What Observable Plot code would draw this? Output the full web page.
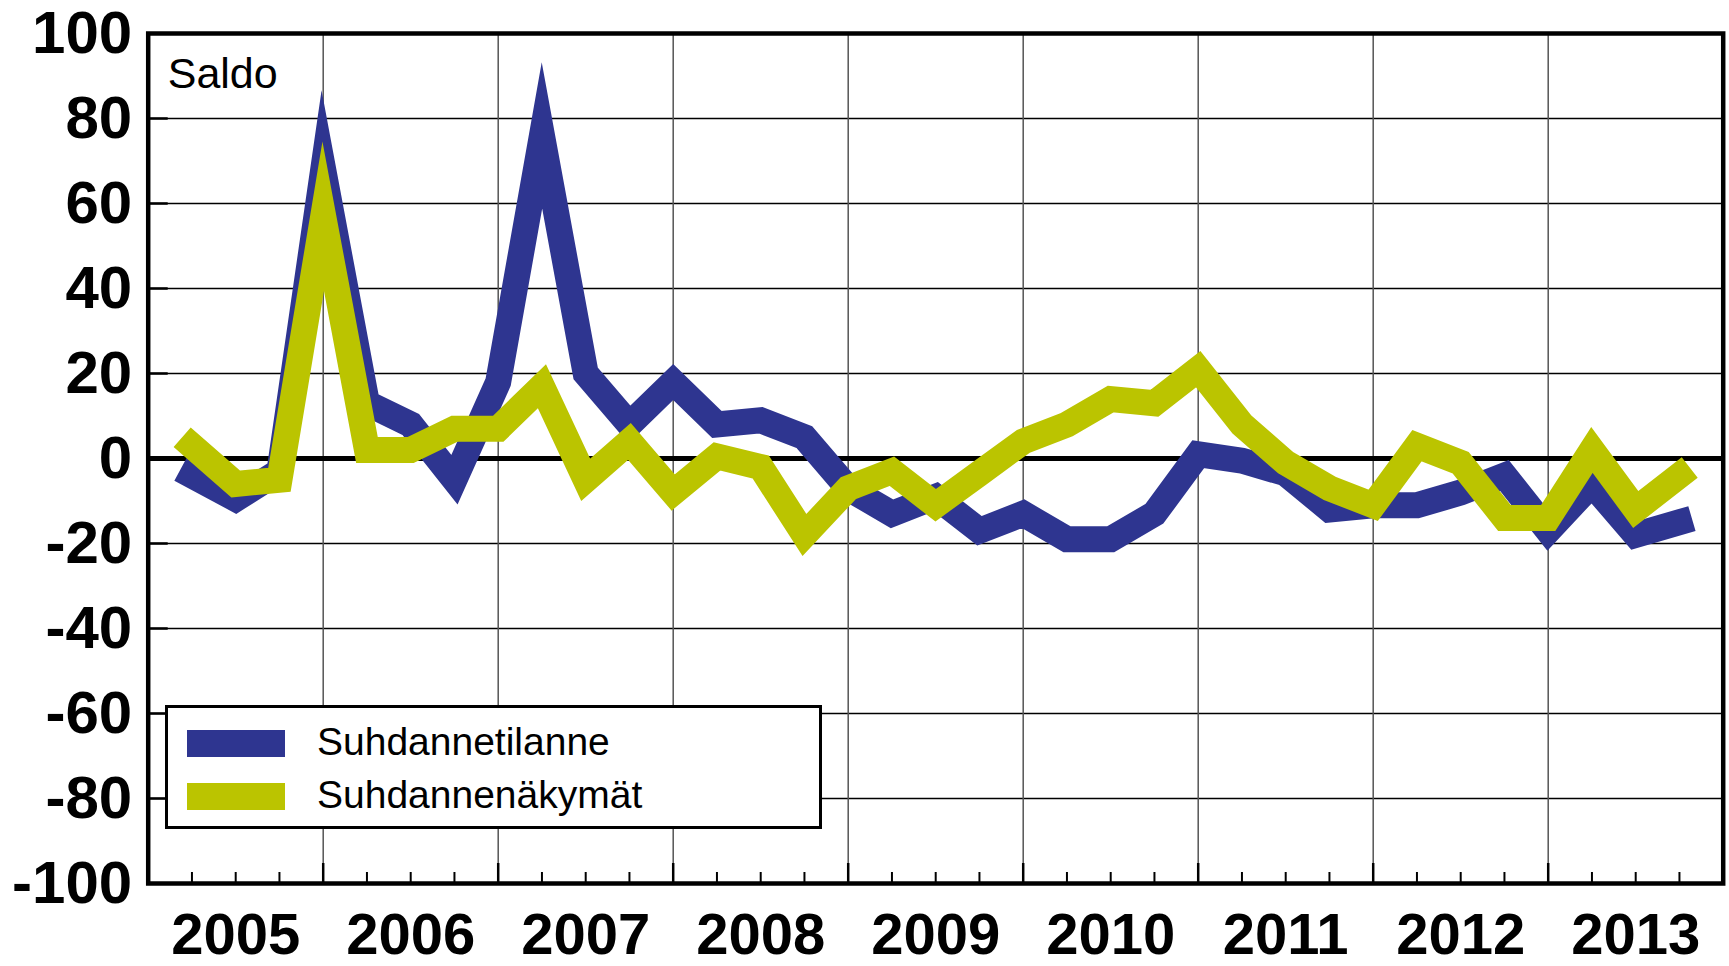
<!DOCTYPE html>
<html><head><meta charset="utf-8">
<script src="https://cdn.jsdelivr.net/npm/d3@7"></script>
<script src="https://cdn.jsdelivr.net/npm/@observablehq/plot@0.6"></script>
<style>
html,body{margin:0;padding:0;background:#fff;overflow:hidden}
#wrap{position:relative;width:1729px;height:966px}
#legend{position:absolute;left:165px;top:705px;width:657px;height:124px;box-sizing:border-box;border:3px solid #000;background:#fff;font-family:"Liberation Sans",Arial,sans-serif;color:#000}
#legend .sw{position:absolute;left:19px;width:98px;height:27px}
#legend .lbl{position:absolute;left:149px;font-size:39px;line-height:39px;white-space:nowrap}
</style></head><body><div id="wrap"><div id="chart"></div><div id="legend"></div></div>
<script>
// ---- data ----
const years = [2005, 2006, 2007, 2008, 2009, 2010, 2011, 2012, 2013];
const seriesNames = ["Suhdannetilanne", "Suhdannenäkymät"];
const seriesColors = ["#2e3590", "#bbc400"];
const suhdannetilanne = [-4, -9.5, -3, 68, 13, 8, -5, 18, 76, 20, 8, 18, 8, 9, 5, -7, -13, -9, -17, -13, -19, -19, -13, 1, -0.5, -3.5, -12, -11, -11, -8, -4, -17, -6, -18, -15];
const suhdannenakymat = [3, -6, -5, 57, 2, 2, 7, 7, 17, -5, 4, -8, 0.5, -2, -18, -7, -3, -11, -3.5, 4, 8, 14, 13, 21, 8, -1, -7, -11, 3, -1, -14, -14, 2, -12, -4];
const yTicks = [-100, -80, -60, -40, -20, 0, 20, 40, 60, 80, 100];
const yLabel = "Saldo";

// ---- table ----
const seriesValues = [suhdannetilanne, suhdannenakymat];
const data = [];
seriesNames.forEach((name, s) => {
  seriesValues[s].forEach((v, i) => data.push({series: name, x: years[0] + (i + 1) / 4, y: v}));
});
const yearBounds = years.slice(1);
const yearCenters = years.map(y => y + 0.5);
const quarterTicks = d3.range(1, years.length * 4).filter(k => k % 4 !== 0).map(k => years[0] + k / 4);

const chart = Plot.plot({
  width: 1729, height: 966,
  marginLeft: 147.7, marginTop: 33, marginRight: 6.3, marginBottom: 83,
  style: {fontFamily: '"Liberation Sans", Arial, sans-serif', background: "#fff", color: "#000"},
  x: {domain: [years[0], years[years.length - 1] + 1]},
  y: {domain: [yTicks[0], yTicks[yTicks.length - 1]]},
  color: {domain: seriesNames, range: seriesColors},
  marks: [
    Plot.gridY(yTicks, {stroke: "#000", strokeOpacity: 1, strokeWidth: 1.4}),
    Plot.gridX(yearBounds, {stroke: "#555", strokeOpacity: 1, strokeWidth: 1.5}),
    Plot.ruleY([0], {stroke: "#000", strokeWidth: 5}),
    Plot.line(data, {x: "x", y: "y", z: "series", stroke: "series", strokeWidth: 26,
      strokeLinecap: "square", strokeLinejoin: "miter", strokeMiterlimit: 20}),
    Plot.frame({stroke: "#000", strokeWidth: 4.5}),
    Plot.axisY(yTicks, {tickSize: -20, tickFormat: () => "", strokeWidth: 2.5, label: null}),
    Plot.axisY(yTicks, {tickSize: 0, tickPadding: 16, fontSize: 60, fontWeight: "bold", label: null, tickFormat: d => String(d)}),
    Plot.axisX(quarterTicks, {tickSize: -11, tickFormat: () => "", strokeWidth: 2, label: null}),
    Plot.axisX(yearBounds, {tickSize: -20, tickFormat: () => "", strokeWidth: 2.5, label: null}),
    Plot.axisX(yearCenters, {tickSize: 0, tickPadding: 29, fontSize: 58, fontWeight: "bold", label: null, tickFormat: d => String(Math.floor(d))}),
    Plot.text([yLabel], {text: d => d, frameAnchor: "top-left", dx: 19.5, dy: 24, fontSize: 43, lineAnchor: "top", textAnchor: "start", fill: "#000"})
  ]
});
document.getElementById("chart").appendChild(chart);

// ---- legend ----
const legend = document.getElementById("legend");
const swTops = [22, 75], lblTops = [14, 66.5];
seriesNames.forEach((name, i) => {
  const sw = document.createElement("div");
  sw.className = "sw"; sw.style.top = swTops[i] + "px"; sw.style.background = seriesColors[i];
  const lb = document.createElement("div");
  lb.className = "lbl"; lb.style.top = lblTops[i] + "px"; lb.textContent = name;
  legend.appendChild(sw); legend.appendChild(lb);
});
</script></body></html>
